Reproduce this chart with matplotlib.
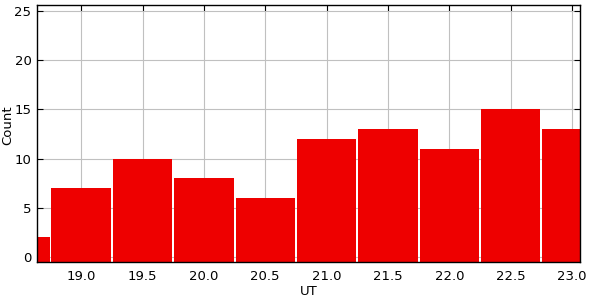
import matplotlib
matplotlib.use("Agg")
from matplotlib import pyplot as plt
import numpy as np

ut_bins = [18.5, 19.0, 19.5, 20.0, 20.5, 21.0, 21.5, 22.0, 22.5, 23.0]
counts = [2, 7, 10, 8, 6, 12, 13, 11, 15, 13]
x_ticks = [19.0, 19.5, 20.0, 20.5, 21.0, 21.5, 22.0, 22.5, 23.0]
y_ticks = [0, 5, 10, 15, 20, 25]

y_floor = -0.5

fig = plt.figure(figsize=(5.9, 3.0), dpi=100)
ax = fig.add_axes([37/590, 38/300, 543/590, 257/300])

# bars sit on the axis floor, with thin white gaps between them
ax.bar(ut_bins, np.array(counts) - y_floor, width=0.484, bottom=y_floor,
       color="#ee0000", linewidth=0, zorder=2)

ax.set_xlim(18.64, 23.065)
ax.set_ylim(y_floor, 25.6)
ax.set_xticks(x_ticks)
ax.set_xticklabels(["%.1f" % t for t in x_ticks])
ax.set_yticks(y_ticks)
ax.grid(True, color="#c0c0c0", linewidth=0.8, zorder=0)
ax.set_axisbelow(True)
ax.tick_params(direction="in", top=True, right=True, length=4, labelsize=9.5)
ax.tick_params(axis="x", pad=6)
ax.tick_params(axis="y", pad=4)
for s in ax.spines.values():
    s.set_linewidth(1.0)
    s.set_zorder(3)
ax.set_xlabel("UT", fontsize=9.5, labelpad=1)
fig.text(8/590, 1 - 125/300, "Count", rotation=90, fontsize=9.5,
         ha="center", va="center")

fig.savefig("out.png", dpi=100)
